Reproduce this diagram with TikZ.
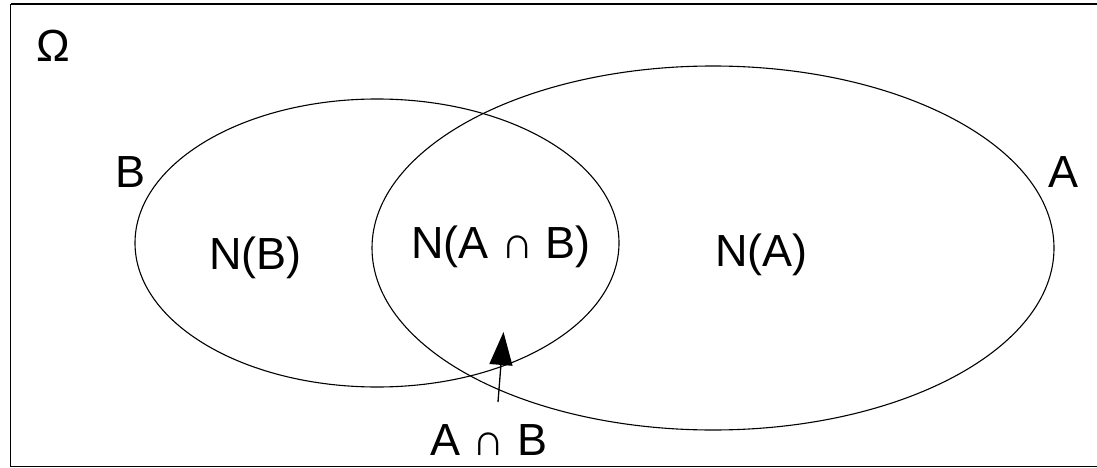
\documentclass[tikz,border=0pt]{standalone}
\usepackage{fontspec}
\setmainfont{Liberation Sans}
\usetikzlibrary{arrows.meta}
\begin{document}
\begin{tikzpicture}[x=1pt,y=-1pt,
  lbl/.style={inner sep=0pt, anchor=base, font=\fontsize{45}{54}\selectfont},
  setline/.style={draw=black, line width=1.1pt},
  pointer/.style={draw=black, line width=1.3pt, -{Triangle[length=33pt,width=23pt]}}]
\useasboundingbox (0,0) rectangle (1097,468);
\draw[line width=1.4pt] (10.5,4) -- (1099,4);
\draw[line width=1.4pt] (10.5,4) -- (10.5,466.5) -- (1099,466.5);
\draw[setline] (377,243) ellipse [x radius=242pt, y radius=144pt];
\draw[setline] (713,248) ellipse [x radius=341pt, y radius=182pt];
\node[lbl] (omega) at (53,62) {Ω};
\node[lbl] (labB) at (130.5,187) {B};
\node[lbl] (labA) at (1063,187) {A};
\node[lbl] (nB) at (255.5,269) {N(B)};
\node[lbl] (nAB) at (501,258) {N(A ∩ B)};
\node[lbl] (nA) at (761.5,266) {N(A)};
\node[lbl] (inter) at (489,455) {A ∩ B};
\coordinate (tail) at (498,402);
\coordinate (tip) at (503.5,332);
\draw[pointer] (tail) -- (tip);
\end{tikzpicture}
\end{document}
